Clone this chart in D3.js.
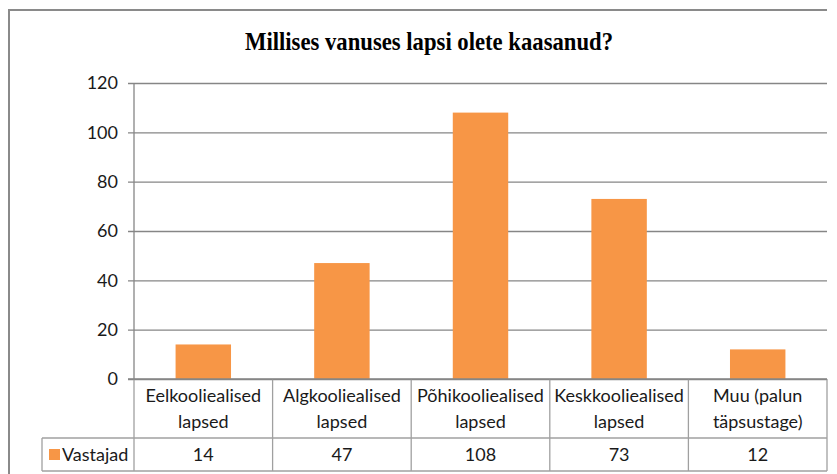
<!DOCTYPE html>
<html>
<head>
<meta charset="utf-8">
<script src="https://cdn.jsdelivr.net/npm/d3@7"></script>
<style>
  html, body { margin: 0; padding: 0; background: #fff; }
  svg { display: block; }
</style>
</head>
<body>
<svg id="chart" width="837" height="474"></svg>
<script>
const title = "Millises vanuses lapsi olete kaasanud?";
const categoryLines = [
  ["Eelkooliealised", "lapsed"],
  ["Algkooliealised", "lapsed"],
  ["Põhikooliealised", "lapsed"],
  ["Keskkooliealised", "lapsed"],
  ["Muu (palun", "täpsustage)"]
];
const categories = ["Eelkooliealised lapsed", "Algkooliealised lapsed", "Põhikooliealised lapsed", "Keskkooliealised lapsed", "Muu (palun täpsustage)"];
const seriesName = "Vastajad";
const values = [14, 47, 108, 73, 12];
const yTicks = [0, 20, 40, 60, 80, 100, 120];

(function () {
const svg = d3.select("#chart");
const left = 134, right = 827, plotTop = 83, bottom = 379;
const gray = "#868686";
const orange = "#F79646";
const font = "Lato, 'Open Sans', sans-serif";
const fs = 18;

// frame
svg.append("path").attr("d", `M9,474 V10 H827`).attr("fill", "none").attr("stroke", "#8a8a8a").attr("stroke-width", 2);

// title
svg.append("text").attr("x", 245).attr("y", 50)
  .style("font-family", "'Liberation Serif', 'DejaVu Serif', serif")
  .attr("font-weight", "bold").attr("font-size", 26)
  .attr("textLength", 368).attr("lengthAdjust", "spacingAndGlyphs")
  .attr("fill", "#000").text(title);

const y = d3.scaleLinear().domain([0, 120]).range([bottom, plotTop]);
const x = d3.scaleBand().domain(categories).range([left, right]).paddingInner(0.6).paddingOuter(0.3);
const col = d3.scaleBand().domain(categories).range([left, right]).padding(0);

// gridlines + tick marks
const grid = svg.append("g").attr("transform", `translate(${left - 6},0)`)
  .call(d3.axisRight(y).tickValues(yTicks).tickSize(right - left + 6).tickFormat(""));
grid.select(".domain").remove();
grid.selectAll("line").attr("stroke", gray).attr("stroke-width", 1.3);

// y labels
const yl = svg.append("g").attr("transform", `translate(${left - 6},0)`)
  .call(d3.axisLeft(y).tickValues(yTicks).tickSize(0).tickPadding(10));
yl.select(".domain").remove();
yl.selectAll("text").attr("font-family", font).attr("font-size", fs).attr("fill", "#1a1a1a");

// bars
svg.append("g").selectAll("rect").data(values).join("rect")
  .attr("x", (d, i) => x(categories[i]))
  .attr("width", x.bandwidth())
  .attr("y", d => y(d))
  .attr("height", d => y(0) - y(d))
  .attr("fill", orange);

// y axis line
svg.append("line").attr("x1", left).attr("x2", left).attr("y1", plotTop).attr("y2", bottom)
  .attr("stroke", gray).attr("stroke-width", 1.3);

// data table
const rowSep = 438, tableBottom = 471, legLeft = 42;
const t = svg.append("g").attr("stroke", "#a0a0a0").attr("stroke-width", 1.3);
categories.forEach((c) => {
  t.append("line").attr("x1", col(c)).attr("x2", col(c)).attr("y1", bottom).attr("y2", tableBottom);
});
t.append("line").attr("x1", right).attr("x2", right).attr("y1", bottom).attr("y2", tableBottom);
t.append("line").attr("x1", legLeft).attr("x2", right).attr("y1", rowSep).attr("y2", rowSep);
t.append("line").attr("x1", legLeft).attr("x2", right).attr("y1", tableBottom).attr("y2", tableBottom);
t.append("line").attr("x1", legLeft).attr("x2", legLeft).attr("y1", rowSep).attr("y2", tableBottom);
svg.append("line").attr("x1", left - 6).attr("x2", right).attr("y1", bottom).attr("y2", bottom)
  .attr("stroke", gray).attr("stroke-width", 1.3);

// category labels
categoryLines.forEach((lines, i) => {
  const cx = col(categories[i]) + col.bandwidth() / 2;
  lines.forEach((ln, j) => {
    svg.append("text").attr("x", cx).attr("y", 402 + j * 25.5)
      .attr("text-anchor", "middle").attr("font-family", font).attr("font-size", fs)
      .attr("fill", "#1a1a1a").text(ln);
  });
});

// values row
values.forEach((v, i) => {
  const cx = col(categories[i]) + col.bandwidth() / 2;
  svg.append("text").attr("x", cx).attr("y", 461)
    .attr("text-anchor", "middle").attr("font-family", font).attr("font-size", fs)
    .attr("fill", "#1a1a1a").text(v);
});

// legend key
svg.append("rect").attr("x", 49).attr("y", 449).attr("width", 11).attr("height", 11).attr("fill", orange);
svg.append("text").attr("x", 62).attr("y", 461).attr("font-family", font).attr("font-size", fs)
  .attr("fill", "#1a1a1a").text(seriesName);
})();
</script>
</body>
</html>
